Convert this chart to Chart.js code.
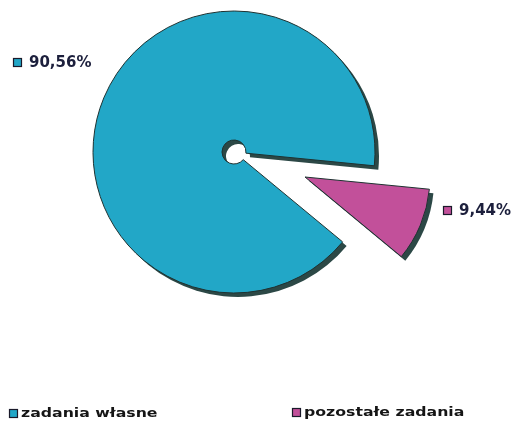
<!DOCTYPE html>
<html><head><meta charset="utf-8">
<script src="https://cdn.jsdelivr.net/npm/chart.js@4.4.1/dist/chart.umd.min.js"></script>
<style>
html,body{margin:0;padding:0;background:#fff;overflow:hidden}
#wrap{position:relative;width:513px;height:421px;background:#fff}
canvas{position:absolute;left:0;top:0}
</style></head><body>
<div id="wrap"><canvas id="c1" width="513" height="421"></canvas><canvas id="c2" width="513" height="421"></canvas></div>
<script>
// ---- data ----
const categories = ['zadania własne', 'pozostałe zadania'];
const values = [90.56, 9.44];
const valueLabels = ['90,56%', '9,44%'];
const colors = ['#22a7c7', '#c2509a'];

// ---- styling ----
const SHADOW = '#2c4846';
const EDGE = '#1e3231';
const ROTATION = 129.6;

const shadowPlugin = {
  id: 'shadow3d',
  beforeDatasetsDraw(chart) {
    const c = chart.ctx; c.save();
    c.shadowColor = SHADOW; c.shadowOffsetX = 4; c.shadowOffsetY = 4; c.shadowBlur = 0;
    const orig = CanvasRenderingContext2D.prototype.stroke;
    c.stroke = function () {
      const sc = this.shadowColor; this.shadowColor = 'rgba(0,0,0,0)';
      orig.apply(this, arguments); this.shadowColor = sc;
    };
  },
  afterDatasetsDraw(chart) { const c = chart.ctx; delete c.stroke; c.restore(); }
};

function box(ctx, x, y, s, col) {
  ctx.save();
  ctx.fillStyle = col; ctx.fillRect(x, y, s, s);
  ctx.strokeStyle = '#1a1a2a'; ctx.lineWidth = 1.2; ctx.strokeRect(x + 0.5, y + 0.5, s - 1, s - 1);
  ctx.restore();
}

const textPlugin = {
  id: 'texts',
  afterDraw(chart) {
    const ctx = chart.ctx; ctx.save();
    ctx.textBaseline = 'middle'; ctx.textAlign = 'left';
    // value labels
    ctx.font = 'bold 15px "DejaVu Sans"';
    const lblPos = [[13, 58], [443, 206]];
    valueLabels.forEach((t, i) => {
      box(ctx, lblPos[i][0], lblPos[i][1], 9, colors[i]);
      ctx.fillStyle = '#1c1f3c';
      ctx.fillText(t, lblPos[i][0] + 16, lblPos[i][1] + 5);
    });
    // legend
    ctx.font = 'bold 13px "DejaVu Sans"';
    const legPos = [[9, 409], [292, 408]];
    categories.forEach((t, i) => {
      box(ctx, legPos[i][0], legPos[i][1], 9, colors[i]);
      ctx.save();
      ctx.translate(legPos[i][0] + 12, legPos[i][1] + 4.5);
      ctx.scale(1.21, 1);
      ctx.fillStyle = '#151515';
      ctx.fillText(t, 0, 0);
      ctx.restore();
    });
    ctx.restore();
  }
};

const common = {
  responsive: false, animation: false, devicePixelRatio: 1,
  rotation: ROTATION,
  plugins: { legend: { display: false }, tooltip: { enabled: false } },
  events: []
};

new Chart(document.getElementById('c1'), {
  type: 'doughnut',
  data: { labels: categories, datasets: [{
    data: values,
    backgroundColor: [colors[0], 'rgba(0,0,0,0)'],
    borderColor: EDGE, borderWidth: [1, 0], clip: false
  }]},
  options: Object.assign({}, common, {
    cutout: '8.5%', radius: 141,
    layout: { padding: { left: 0, right: 45, top: 0, bottom: 117 } }
  }),
  plugins: [shadowPlugin, textPlugin]
});

new Chart(document.getElementById('c2'), {
  type: 'doughnut',
  data: { labels: categories, datasets: [{
    data: values,
    backgroundColor: ['rgba(0,0,0,0)', colors[1]],
    borderColor: EDGE, borderWidth: [0, 1], clip: false
  }]},
  options: Object.assign({}, common, {
    cutout: 0, radius: 125,
    layout: { padding: { left: 155, right: 58, top: 27, bottom: 94 } }
  }),
  plugins: [shadowPlugin]
});
</script>
</body></html>
